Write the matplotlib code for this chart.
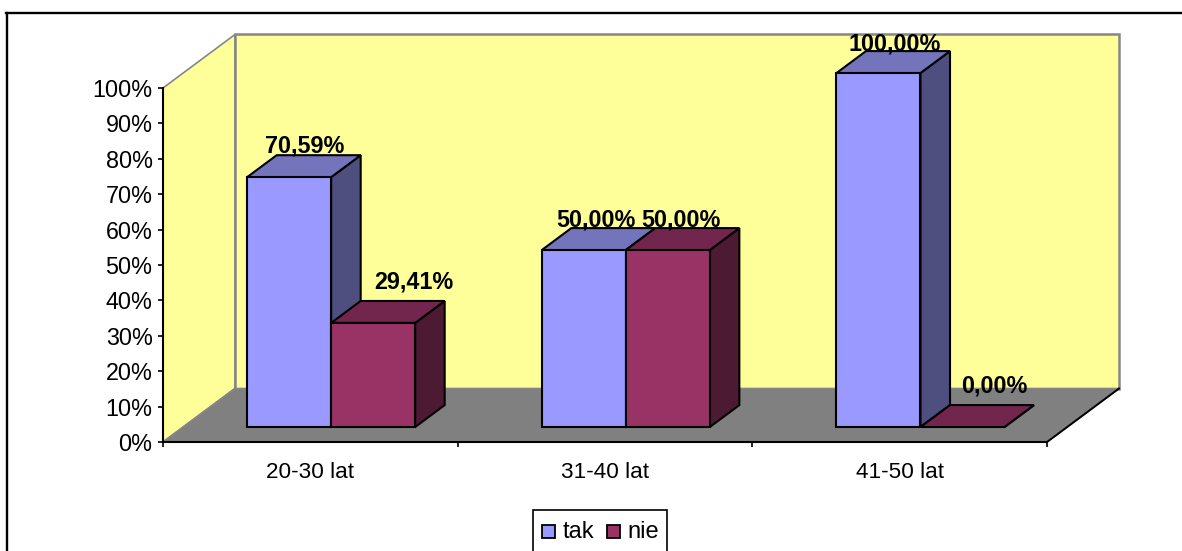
import matplotlib
matplotlib.use('Agg')
import matplotlib.pyplot as plt
from matplotlib.patches import Polygon, Rectangle

categories = ['20-30 lat', '31-40 lat', '41-50 lat']
tak = [70.59, 50.00, 100.00]
nie = [29.41, 50.00, 0.00]
tak_labels = ['70,59%', '50,00%', '100,00%']
nie_labels = ['29,41%', '50,00%', '0,00%']
yticks = list(range(0, 101, 10))

W, H = 1182, 551
plt.rcParams['font.family'] = ['Liberation Sans', 'DejaVu Sans']

fig = plt.figure(figsize=(W / 100, H / 100), dpi=100)
ax = fig.add_axes([163 / W, 1 - 442 / H, 884 / W, 354 / H])
ax.set_xlim(0, 3)
ax.set_ylim(0, 100)

# przesuniecie w glab wykresu (cala podloga)
DX = 72 / 884 * 3
DY = 53.5 / 354 * 100
BAR_W = 84 / 884 * 3
BAR_X = 64 / 884 * 3
D1, D2 = 0.28, 0.69
PX = 72 / 100  # piksele na punkty


def depth(x, y, d):
    return (x + d * DX, y + d * DY)


def poly(points, face, edge='black', lw=1.5, z=2):
    ax.add_patch(Polygon(points, closed=True, facecolor=face, edgecolor=edge,
                         linewidth=lw, joinstyle='miter', clip_on=False, zorder=z))


def bar3d(x, value, front, top, side, z):
    a, b = x, x + BAR_W
    poly([depth(b, 0, D1), depth(b, 0, D2), depth(b, value, D2), depth(b, value, D1)], side, z=z)
    poly([depth(a, value, D1), depth(b, value, D1), depth(b, value, D2), depth(a, value, D2)], top, z=z)
    if value > 0:
        poly([depth(a, 0, D1), depth(b, 0, D1), depth(b, value, D1), depth(a, value, D1)], front, z=z)


# sciany i podloga
WALL = '#FFFF99'
GRID = '#868686'
poly([(0, 0), depth(0, 0, 1), depth(0, 100, 1), (0, 100)], WALL, edge=GRID, lw=1.2, z=1)
poly([depth(0, 0, 1), depth(3, 0, 1), depth(3, 100, 1), depth(0, 100, 1)], WALL, edge=GRID, lw=1.8, z=1)
poly([(0, 0), (3, 0), depth(3, 0, 1), depth(0, 0, 1)], '#808080', edge=GRID, lw=1.2, z=1)
ax.plot([3, 3 + DX], [0, DY], color='black', lw=1.4, clip_on=False, zorder=1.5)

for i in range(3):
    x_tak = i + BAR_X
    bar3d(x_tak, tak[i], '#9999FF', '#7474BC', '#4E4E7F', 3 + i * 3)
    bar3d(x_tak + BAR_W, nie[i], '#993366', '#73264D', '#4D1A33', 4 + i * 3)

# etykiety danych, przesuniecia w pikselach od srodka przedniej gornej krawedzi
tak_off = [(15.5, 31), (12, 30), (16, 29)]
nie_off = [(40.5, 41), (13, 30), (32, 41)]
label_kw = dict(ha='center', va='center', fontsize=16.8, fontweight='bold', zorder=20,
                clip_on=False, annotation_clip=False, textcoords='offset points', xycoords='data')
for i in range(3):
    x_tak = i + BAR_X + BAR_W / 2 + D1 * DX
    x_nie = x_tak + BAR_W
    ax.annotate(tak_labels[i], xy=(x_tak, tak[i] + D1 * DY),
                xytext=(tak_off[i][0] * PX, tak_off[i][1] * PX), **label_kw)
    ax.annotate(nie_labels[i], xy=(x_nie, nie[i] + D1 * DY),
                xytext=(nie_off[i][0] * PX, nie_off[i][1] * PX), **label_kw)

# osie
for s in ['top', 'right']:
    ax.spines[s].set_visible(False)
for s in ['left', 'bottom']:
    ax.spines[s].set_linewidth(1.5)
    ax.spines[s].set_zorder(2.5)
ax.patch.set_visible(False)
ax.set_yticks(yticks)
ax.set_yticklabels([f'{v}%' for v in yticks], fontsize=16.8)
ax.set_xticks([0, 1, 2, 3])
ax.set_xticklabels([])
ax.tick_params(axis='both', length=3.5, width=1.2, pad=4)
for i, c in enumerate(categories):
    ax.annotate(c, xy=(i + 0.5, 0), xycoords='data', xytext=(0, -31 * PX), textcoords='offset points',
                ha='center', va='center', fontsize=16.2, annotation_clip=False)

# ramka wykresu: tylko lewa i gorna krawedz widoczna
fig.add_artist(plt.Line2D([6.5 / W, 6.5 / W], [0, 1 - 13 / H], color='black', lw=1.7))
fig.add_artist(plt.Line2D([6 / W, 1], [1 - 13 / H, 1 - 13 / H], color='black', lw=1.7))

# legenda (dol ramki ucina kadr)
fig.add_artist(Rectangle((533 / W, 1 - 560 / H), 134 / W, 50 / H, transform=fig.transFigure,
                         facecolor='white', edgecolor='black', lw=1.2))
for x0, col, lab, tx in [(542, '#9999FF', 'tak', 563), (607, '#993366', 'nie', 627)]:
    fig.add_artist(Rectangle((x0 / W, 1 - 538 / H), 13 / W, 13 / H, transform=fig.transFigure,
                             facecolor=col, edgecolor='black', lw=1.3))
    fig.text(tx / W, 1 - 532 / H, lab, fontsize=17, ha='left', va='center')

fig.savefig('out.png', dpi=100)
